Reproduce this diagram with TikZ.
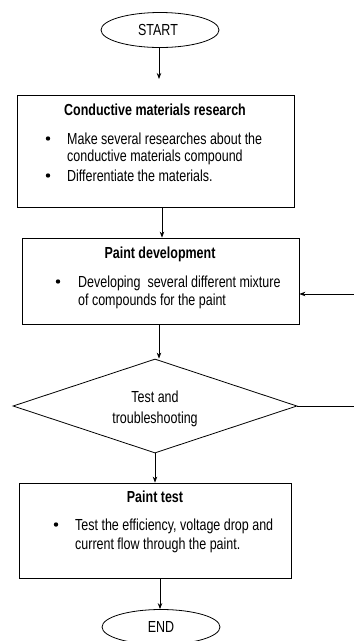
\documentclass[tikz,border=0pt]{standalone}
\usepackage{fontspec}
\setmainfont[FakeStretch=0.78]{Liberation Sans}
\usetikzlibrary{shapes.geometric,arrows.meta}
\begin{document}
\begin{tikzpicture}[x=1pt,y=-1pt,
  every node/.style={font=\fontsize{16}{19}\selectfont},
  frame/.style={draw, line width=0.8pt, inner sep=0pt},
  term/.style={frame, ellipse, minimum width=118pt, minimum height=35pt},
  line/.style={draw, line width=0.8pt},
  arr/.style={line, -{Stealth[length=6pt,width=4.5pt]}},
  title/.style={anchor=base, font=\fontsize{16}{19}\selectfont\bfseries},
  txt/.style={anchor=base west, inner sep=0pt},
  bul/.style={circle, fill, inner sep=0pt, minimum size=4.4pt}]
\path[use as bounding box] (0,0) rectangle (354,641);
\clip (0,0) rectangle (354,641);
% terminals
\node[term] (start) at (160,30) {};
\node[anchor=base] (starttxt) at (158,35.5) {START};
\node[term] (end) at (161,627) {};
\node[anchor=base] (endtxt) at (161,632.5) {END};
% box 1
\node[frame, minimum width=277pt, minimum height=112pt] (b1) at (155.5,151) {};
\node[title] (t1) at (155,115) {Conductive materials research};
\node[bul] (u11) at (48,138.5) {};
\node[txt] (l11) at (67,144) {Make several researches about the};
\node[txt] (l12) at (67,161) {conductive materials compound};
\node[bul] (u12) at (48,175.5) {};
\node[txt] (l13) at (67,181) {Differentiate the materials.};
% box 2
\node[frame, minimum width=277pt, minimum height=86pt] (b2) at (160.5,281) {};
\node[title] (t2) at (160,258) {Paint development};
\node[bul] (u21) at (58,281.5) {};
\node[txt] (l21) at (78,287) {Developing\ \ several different mixture};
\node[txt] (l22) at (78,305) {of compounds for the paint};
% decision
\node[frame, diamond, minimum width=284pt, minimum height=94pt] (d) at (155,406) {};
\node[anchor=base] (dt1) at (155,402) {Test and};
\node[anchor=base] (dt2) at (155,423) {troubleshooting};
% box 3
\node[frame, minimum width=272pt, minimum height=95pt] (b3) at (155,530.5) {};
\node[title] (t3) at (155,502) {Paint test};
\node[bul] (u31) at (56,524.5) {};
\node[txt] (l31) at (75,530) {Test the efficiency, voltage drop and};
\node[txt] (l32) at (75,549) {current flow through the paint.};
% connectors
\draw[arr] (start.south -| 159,0) -- (159,79);
\draw[arr] (b1.south -| 162,0) -- (b2.north -| 162,0);
\draw[arr] (b2.south -| 159,0) -- (d.north -| 159,0);
\draw[arr] (d.south) -- (b3.north -| d.south);
\draw[arr] (b3.south -| 160,0) -- (end.north -| 160,0);
\coordinate (fbin) at (354,294);
\coordinate (fbout) at (354,406);
\draw[arr] (fbin) -- (b2.east |- fbin);
\draw[line] (d.east) -- (fbout);
\end{tikzpicture}
\end{document}
